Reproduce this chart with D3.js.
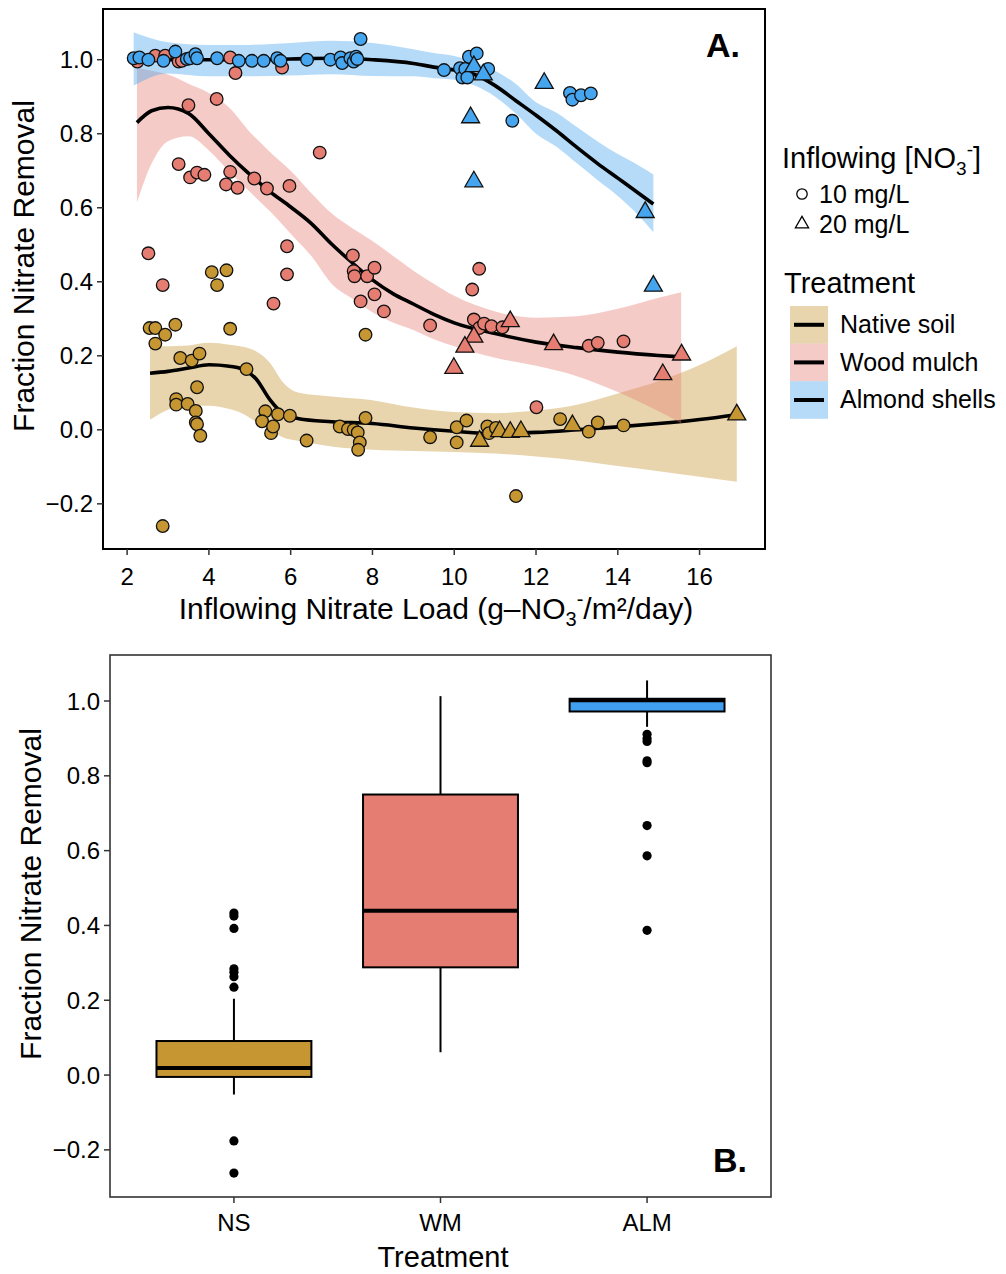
<!DOCTYPE html>
<html>
<head>
<meta charset="utf-8">
<script src="https://cdn.jsdelivr.net/npm/d3@7"></script>
<style>
  body { margin: 0; background: #fff; }
  svg text { font-family: "Liberation Sans", Arial, sans-serif; fill: #000; }
</style>
</head>
<body>
<svg id="chart" width="1006" height="1274"></svg>
<script>
    // ---- data ----
    var treatments = ["NS", "WM", "ALM"];
    var treatmentNames = ["Native soil", "Wood mulch", "Almond shells"];

    // panel A points: [load, fraction removed], 10 mg/L = circles, 20 mg/L = triangles
    var nsCircles = [[4.07,0.426],[4.43,0.431],[4.20,0.391],[2.55,0.275],[2.69,0.275],[2.93,0.257],[3.18,0.284],
        [2.69,0.233],[4.52,0.273],[7.83,0.257],[3.30,0.194],[3.58,0.187],[3.77,0.206],[4.92,0.164],[3.71,0.115],
        [3.20,0.083],[3.20,0.068],[3.48,0.070],[3.68,0.051],[3.68,0.020],[3.71,0.015],[3.79,-0.016],[2.87,-0.260],
        [5.38,0.050],[5.30,0.023],[5.52,-0.009],[5.57,0.009],[5.69,0.042],[5.98,0.038],[6.39,-0.029],[7.20,0.009],
        [7.40,0.002],[7.54,0.000],[7.64,-0.007],[7.69,-0.034],[7.65,-0.054],[7.83,0.032],[9.41,-0.020],[10.06,0.007],
        [10.06,-0.034],[10.30,0.025],[10.81,0.009],[10.85,-0.009],[11.02,0.005],[11.51,-0.179],[12.59,0.029],
        [13.29,-0.005],[13.51,0.020],[14.14,0.012]];
    var nsTriangles = [[10.62,-0.033],[11.11,-0.007],[11.37,-0.009],[11.63,-0.007],[12.89,0.009],[16.91,0.038]];

    var wmCircles = [[2.25,0.995],[2.69,1.011],[2.93,1.011],[3.26,0.995],[3.34,0.997],[4.52,1.006],[4.65,0.964],
        [5.79,0.979],[3.50,0.877],[4.19,0.894],[3.26,0.718],[3.54,0.682],[3.71,0.695],[3.89,0.689],[4.52,0.697],
        [4.42,0.663],[4.70,0.654],[5.11,0.679],[5.42,0.652],[5.97,0.659],[6.71,0.749],[2.52,0.477],[2.87,0.391],
        [5.91,0.496],[5.91,0.420],[5.58,0.341],[7.52,0.471],[7.54,0.429],[7.56,0.415],[7.87,0.415],[8.05,0.438],
        [8.05,0.366],[7.71,0.347],[8.28,0.320],[9.41,0.282],[10.61,0.435],[10.44,0.379],[10.48,0.298],[10.61,0.275],
        [10.73,0.287],[10.91,0.280],[11.18,0.277],[13.29,0.227],[13.51,0.235],[14.14,0.239],[12.01,0.061]];
    var wmTriangles = [[11.37,0.290],[10.48,0.248],[10.26,0.221],[9.99,0.164],[12.43,0.228],[15.56,0.200],[15.10,0.147]];

    var almCircles = [[2.16,1.004],[2.30,1.006],[2.52,1.000],[2.89,0.997],[3.18,1.022],[3.46,1.002],[3.54,1.004],
        [3.67,1.015],[3.71,1.004],[4.20,1.004],[4.73,0.997],[5.05,0.997],[5.34,0.997],[5.67,1.004],[5.75,0.997],
        [6.40,1.000],[6.97,1.000],[7.22,1.006],[7.26,0.991],[7.46,1.004],[7.54,0.995],[7.60,1.008],[7.63,1.002],
        [7.71,1.056],[9.75,0.972],[10.14,0.977],[10.20,0.952],[10.27,0.975],[10.32,0.952],[10.36,1.008],
        [10.55,1.017],[10.83,0.975],[11.42,0.835],[12.83,0.910],[12.89,0.892],[13.10,0.904],[13.34,0.909]];
    var almTriangles = [[10.48,0.979],[10.71,0.957],[12.20,0.934],[10.40,0.841],[10.48,0.668],[14.67,0.585],[14.87,0.386]];

    // loess fits with 95% bands, read at these loads
    var nsSmoothX = [2.56, 3.0, 3.5, 4.0, 4.5, 4.8, 5.15, 5.5, 5.8, 6.2, 7.0, 8.0, 9.0, 10.0, 11.0, 12.0, 13.0, 14.0, 15.0, 16.0, 16.91];
    var nsFit = [0.153, 0.158, 0.167, 0.176, 0.172, 0.165, 0.138, 0.080, 0.045, 0.030, 0.022, 0.017, 0.005, -0.004, -0.010, -0.007, 0.000, 0.008, 0.017, 0.028, 0.041];
    var nsLo = [0.027, 0.054, 0.065, 0.065, 0.056, 0.045, 0.022, 0.000, -0.020, -0.030, -0.045, -0.054, -0.057, -0.060, -0.064, -0.072, -0.083, -0.098, -0.112, -0.127, -0.140];
    var nsHi = [0.226, 0.226, 0.228, 0.235, 0.230, 0.225, 0.212, 0.180, 0.130, 0.100, 0.090, 0.080, 0.060, 0.048, 0.045, 0.052, 0.068, 0.098, 0.132, 0.175, 0.226];

    var wmSmoothX = [2.24, 2.6, 3.0, 3.5, 4.0, 4.5, 5.0, 5.5, 6.0, 6.5, 7.0, 7.5, 8.0, 8.5, 9.0, 9.5, 10.0, 11.0, 12.0, 13.0, 14.0, 15.0, 15.55];
    var wmFit = [0.830, 0.862, 0.871, 0.855, 0.800, 0.742, 0.690, 0.643, 0.602, 0.558, 0.502, 0.452, 0.405, 0.368, 0.340, 0.312, 0.289, 0.260, 0.237, 0.222, 0.210, 0.201, 0.197];
    var wmLo = [0.614, 0.720, 0.780, 0.793, 0.755, 0.698, 0.643, 0.590, 0.530, 0.470, 0.395, 0.355, 0.318, 0.290, 0.270, 0.245, 0.226, 0.195, 0.173, 0.145, 0.102, 0.050, 0.018];
    var wmHi = [0.979, 0.970, 0.960, 0.935, 0.910, 0.870, 0.805, 0.750, 0.700, 0.640, 0.585, 0.545, 0.510, 0.470, 0.430, 0.395, 0.362, 0.320, 0.303, 0.307, 0.327, 0.357, 0.372];

    var almSmoothX = [2.16, 3, 4, 5, 6, 7, 8, 9, 9.5, 10, 10.5, 11, 11.5, 12, 12.5, 13, 13.5, 14, 14.5, 14.87];
    var almFit = [1.000, 1.000, 1.000, 1.000, 1.002, 1.004, 1.000, 0.990, 0.980, 0.972, 0.960, 0.930, 0.890, 0.850, 0.808, 0.763, 0.720, 0.680, 0.640, 0.610];
    var almLo = [0.930, 0.963, 0.955, 0.955, 0.957, 0.961, 0.956, 0.955, 0.950, 0.946, 0.930, 0.900, 0.855, 0.800, 0.765, 0.720, 0.675, 0.632, 0.580, 0.534];
    var almHi = [1.074, 1.047, 1.040, 1.040, 1.045, 1.051, 1.045, 1.028, 1.018, 1.010, 0.993, 0.970, 0.935, 0.885, 0.857, 0.818, 0.780, 0.745, 0.715, 0.690];

    // panel B box statistics
    var boxLow = [-0.052, 0.061, 0.931];
    var boxQ1 = [-0.005, 0.288, 0.972];
    var boxMed = [0.019, 0.439, 1.002];
    var boxQ3 = [0.091, 0.750, 1.006];
    var boxHigh = [0.204, 1.013, 1.055];
    var boxOutliers = [
        [0.433, 0.425, 0.392, 0.284, 0.275, 0.263, 0.235, -0.176, -0.262],
        [],
        [0.911, 0.900, 0.892, 0.840, 0.835, 0.667, 0.586, 0.387]
    ];

    var yTicks = [-0.2, 0, 0.2, 0.4, 0.6, 0.8, 1.0];
    var xTicks = [2, 4, 6, 8, 10, 12, 14, 16];

    // ---- styles ----
    var pointFill = { NS: "#c59632", WM: "#e57d72", ALM: "#45a5ef" };
    var boxFill = { NS: "#c59632", WM: "#e57d72", ALM: "#409ff0" };

    var groups = [
        { key: "NS", circles: nsCircles, triangles: nsTriangles, sx: nsSmoothX, fit: nsFit, lo: nsLo, hi: nsHi },
        { key: "WM", circles: wmCircles, triangles: wmTriangles, sx: wmSmoothX, fit: wmFit, lo: wmLo, hi: wmHi },
        { key: "ALM", circles: almCircles, triangles: almTriangles, sx: almSmoothX, fit: almFit, lo: almLo, hi: almHi }
    ];

    var svg = d3.select("#chart");
    var fmt = d3.format(".1f");

    // ================= panel A =================
    var A = { left: 103, right: 765, top: 9, bottom: 549 };
    var x = d3.scaleLinear().domain([1.41, 17.6]).range([A.left, A.right]);
    var y = d3.scaleLinear().domain([-0.322, 1.137]).range([A.bottom, A.top]);

    var gA = svg.append("g");

    groups.forEach(function(grp) {
        var rows = grp.sx.map(function(v, i) { return { x: v, f: grp.fit[i], lo: grp.lo[i], hi: grp.hi[i] }; });
        gA.append("path")
            .datum(rows)
            .attr("fill", pointFill[grp.key])
            .attr("fill-opacity", 0.4)
            .attr("d", d3.area().curve(d3.curveMonotoneX)
                .x(d => x(d.x)).y0(d => y(d.lo)).y1(d => y(d.hi)));
        gA.append("path")
            .datum(rows)
            .attr("fill", "none")
            .attr("stroke", "#000")
            .attr("stroke-width", 3.6)
            .attr("d", d3.line().curve(d3.curveMonotoneX).x(d => x(d.x)).y(d => y(d.f)));
    });

    var tri = d3.symbol().type(d3.symbolTriangle).size(140);

    groups.forEach(function(grp) {
        gA.selectAll("circle." + grp.key)
            .data(grp.circles)
            .enter()
            .append("circle")
            .attr("class", grp.key)
            .attr("cx", d => x(d[0]))
            .attr("cy", d => y(d[1]))
            .attr("r", 6.3)
            .attr("fill", pointFill[grp.key])
            .attr("stroke", "#111")
            .attr("stroke-width", 1.3);
        gA.selectAll("path.tri" + grp.key)
            .data(grp.triangles)
            .enter()
            .append("path")
            .attr("class", "tri" + grp.key)
            .attr("d", tri)
            .attr("transform", d => "translate(" + x(d[0]) + "," + (y(d[1]) - 1) + ")")
            .attr("fill", pointFill[grp.key])
            .attr("stroke", "#111")
            .attr("stroke-width", 1.3);
    });

    gA.append("rect")
        .attr("x", A.left).attr("y", A.top)
        .attr("width", A.right - A.left).attr("height", A.bottom - A.top)
        .attr("fill", "none").attr("stroke", "#000").attr("stroke-width", 2);

    // y axis
    yTicks.forEach(function(t) {
        gA.append("line")
            .attr("x1", A.left - 6).attr("x2", A.left)
            .attr("y1", y(t)).attr("y2", y(t))
            .attr("stroke", "#333").attr("stroke-width", 1.5);
        gA.append("text")
            .attr("x", A.left - 10).attr("y", y(t) + 8.5)
            .attr("text-anchor", "end")
            .style("font-size", "24px")
            .text(fmt(t));
    });
    // x axis
    xTicks.forEach(function(t) {
        gA.append("line")
            .attr("x1", x(t)).attr("x2", x(t))
            .attr("y1", A.bottom).attr("y2", A.bottom + 6)
            .attr("stroke", "#333").attr("stroke-width", 1.5);
        gA.append("text")
            .attr("x", x(t)).attr("y", A.bottom + 36)
            .attr("text-anchor", "middle")
            .style("font-size", "24px")
            .text(t);
    });

    var xt = gA.append("text")
        .attr("x", 436).attr("y", 619)
        .attr("text-anchor", "middle")
        .style("font-size", "30px");
    xt.append("tspan").text("Inflowing Nitrate Load (g\u2013NO");
    xt.append("tspan").attr("dy", 7).style("font-size", "20px").text("3");
    xt.append("tspan").attr("dy", -20).style("font-size", "20px").text("-");
    xt.append("tspan").attr("dy", 13).text("/m\u00B2/day)");

    gA.append("text")
        .attr("transform", "translate(34,266) rotate(-90)")
        .attr("text-anchor", "middle")
        .style("font-size", "30px")
        .text("Fraction Nitrate Removal");

    gA.append("text")
        .attr("x", 740).attr("y", 57)
        .attr("text-anchor", "end")
        .style("font-size", "34px")
        .style("font-weight", "bold")
        .text("A.");

    // ---- legends ----
    var lg = svg.append("g");
    var lt = lg.append("text").attr("x", 782).attr("y", 168).style("font-size", "29px");
    lt.append("tspan").text("Inflowing [NO");
    lt.append("tspan").attr("dy", 7).style("font-size", "19px").text("3");
    lt.append("tspan").attr("dy", -19).style("font-size", "19px").text("-");
    lt.append("tspan").attr("dy", 12).text("]");

    lg.append("circle").attr("cx", 802).attr("cy", 194).attr("r", 5.2)
        .attr("fill", "none").attr("stroke", "#000").attr("stroke-width", 1.3);
    lg.append("path").attr("d", d3.symbol().type(d3.symbolTriangle).size(75))
        .attr("transform", "translate(802,224)")
        .attr("fill", "none").attr("stroke", "#000").attr("stroke-width", 1.3);
    lg.append("text").attr("x", 819).attr("y", 203).style("font-size", "25px").text("10 mg/L");
    lg.append("text").attr("x", 819).attr("y", 233).style("font-size", "25px").text("20 mg/L");

    lg.append("text").attr("x", 784).attr("y", 293).style("font-size", "29px").text("Treatment");
    treatments.forEach(function(k, i) {
        var ky = 306 + i * 37.6;
        lg.append("rect").attr("x", 790).attr("y", ky).attr("width", 38).attr("height", 37.6)
            .attr("fill", pointFill[k]).attr("fill-opacity", 0.4);
        lg.append("line").attr("x1", 794).attr("x2", 824).attr("y1", ky + 18.8).attr("y2", ky + 18.8)
            .attr("stroke", "#000").attr("stroke-width", 4);
        lg.append("text").attr("x", 840).attr("y", ky + 27).style("font-size", "25px").text(treatmentNames[i]);
    });

    // ================= panel B =================
    var B = { left: 110, right: 771, top: 655, bottom: 1197 };
    var xb = d3.scalePoint().domain(treatments).range([B.left, B.right]).padding(0.6);
    var yb = d3.scaleLinear().domain([-0.326, 1.123]).range([B.bottom, B.top]);
    var bw = xb.step() * 0.75;

    var gB = svg.append("g");

    treatments.forEach(function(k, i) {
        var cx = xb(k);
        gB.append("line")
            .attr("x1", cx).attr("x2", cx)
            .attr("y1", yb(boxHigh[i])).attr("y2", yb(boxQ3[i]))
            .attr("stroke", "#000").attr("stroke-width", 2);
        gB.append("line")
            .attr("x1", cx).attr("x2", cx)
            .attr("y1", yb(boxQ1[i])).attr("y2", yb(boxLow[i]))
            .attr("stroke", "#000").attr("stroke-width", 2);
        gB.append("rect")
            .attr("x", cx - bw / 2).attr("width", bw)
            .attr("y", yb(boxQ3[i])).attr("height", yb(boxQ1[i]) - yb(boxQ3[i]))
            .attr("fill", boxFill[k])
            .attr("stroke", "#000").attr("stroke-width", 2);
        gB.append("line")
            .attr("x1", cx - bw / 2).attr("x2", cx + bw / 2)
            .attr("y1", yb(boxMed[i])).attr("y2", yb(boxMed[i]))
            .attr("stroke", "#000").attr("stroke-width", 4);
        gB.selectAll("circle.out" + k)
            .data(boxOutliers[i])
            .enter()
            .append("circle")
            .attr("class", "out" + k)
            .attr("cx", cx)
            .attr("cy", d => yb(d))
            .attr("r", 4.6)
            .attr("fill", "#000");
    });

    gB.append("rect")
        .attr("x", B.left).attr("y", B.top)
        .attr("width", B.right - B.left).attr("height", B.bottom - B.top)
        .attr("fill", "none").attr("stroke", "#333").attr("stroke-width", 1.6);

    yTicks.forEach(function(t) {
        gB.append("line")
            .attr("x1", B.left - 6).attr("x2", B.left)
            .attr("y1", yb(t)).attr("y2", yb(t))
            .attr("stroke", "#333").attr("stroke-width", 1.5);
        gB.append("text")
            .attr("x", B.left - 10).attr("y", yb(t) + 8.5)
            .attr("text-anchor", "end")
            .style("font-size", "24px")
            .text(fmt(t));
    });
    treatments.forEach(function(k) {
        gB.append("line")
            .attr("x1", xb(k)).attr("x2", xb(k))
            .attr("y1", B.bottom).attr("y2", B.bottom + 6)
            .attr("stroke", "#333").attr("stroke-width", 1.5);
        gB.append("text")
            .attr("x", xb(k)).attr("y", B.bottom + 34)
            .attr("text-anchor", "middle")
            .style("font-size", "24px")
            .text(k);
    });

    gB.append("text")
        .attr("x", 443).attr("y", 1267)
        .attr("text-anchor", "middle")
        .style("font-size", "29px")
        .text("Treatment");

    gB.append("text")
        .attr("transform", "translate(41,894) rotate(-90)")
        .attr("text-anchor", "middle")
        .style("font-size", "30px")
        .text("Fraction Nitrate Removal");

    gB.append("text")
        .attr("x", 747).attr("y", 1172)
        .attr("text-anchor", "end")
        .style("font-size", "34px")
        .style("font-weight", "bold")
        .text("B.");
</script>
</body>
</html>
